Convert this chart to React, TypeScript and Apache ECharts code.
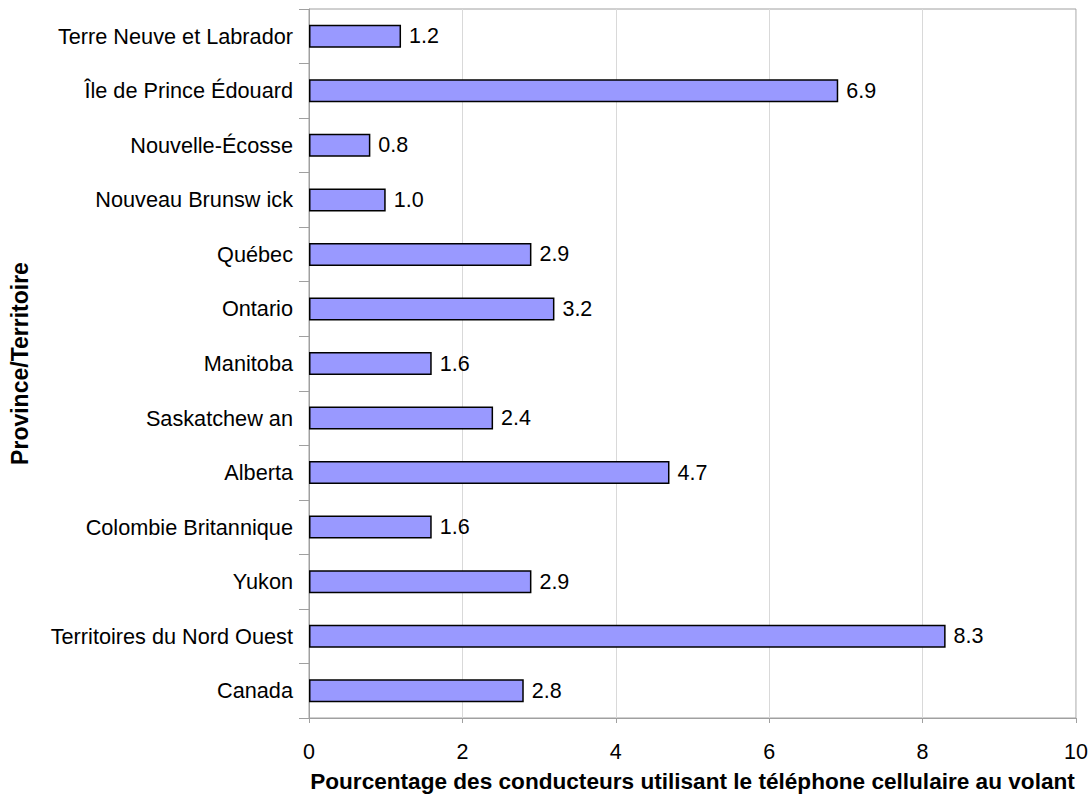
import React, { useEffect, useRef } from "react";
import * as echarts from "echarts";

const categories = [
  "Terre Neuve et Labrador",
  "Île de Prince Édouard",
  "Nouvelle-Écosse",
  "Nouveau Brunsw ick",
  "Québec",
  "Ontario",
  "Manitoba",
  "Saskatchew an",
  "Alberta",
  "Colombie Britannique",
  "Yukon",
  "Territoires du Nord Ouest",
  "Canada",
];
const values = [1.2, 6.9, 0.8, 1.0, 2.9, 3.2, 1.6, 2.4, 4.7, 1.6, 2.9, 8.3, 2.8];
const xTitle = "Pourcentage des conducteurs utilisant le téléphone cellulaire au volant";
const yTitle = "Province/Territoire";

export default function App() {
  const ref = useRef<HTMLDivElement>(null);
  useEffect(() => {
    if (!ref.current) return;
    const chart = echarts.init(ref.current, null, { renderer: "svg" });
    const font = "Arial, 'Liberation Sans', sans-serif";
    chart.setOption({
      animation: false,
      backgroundColor: "#ffffff",
      textStyle: { fontFamily: font },
      grid: {
        left: 308,
        right: 15,
        top: 9,
        bottom: 87,
        show: true,
        borderColor: "#a0a0a0",
        borderWidth: 1,
        backgroundColor: "transparent",
      },
      xAxis: {
        type: "value",
        min: 0,
        max: 10,
        interval: 2,
        name: xTitle,
        nameLocation: "middle",
        nameGap: 52,
        nameTextStyle: { fontSize: 22.6, fontWeight: "bold", color: "#000", fontFamily: font },
        axisLine: { show: true, lineStyle: { color: "#a0a0a0", width: 1 } },
        axisTick: { show: true, length: 5, lineStyle: { color: "#a0a0a0" } },
        axisLabel: { fontSize: 21.5, color: "#000", margin: 23, fontFamily: font },
        splitLine: { show: true, lineStyle: { color: "#d9d9d9", width: 1 } },
      },
      yAxis: {
        type: "category",
        data: categories,
        inverse: true,
        name: yTitle,
        nameLocation: "middle",
        nameGap: 278,
        nameRotate: 90,
        nameTextStyle: { fontSize: 23, fontWeight: "bold", color: "#000", fontFamily: font },
        axisLine: { show: true, lineStyle: { color: "#a0a0a0", width: 1 } },
        axisTick: { show: true, length: 10, lineStyle: { color: "#a0a0a0" } },
        axisLabel: { fontSize: 21.7, color: "#000", margin: 16, fontFamily: font },
        splitLine: { show: false },
      },
      series: [
        {
          type: "bar",
          data: values,
          barWidth: 23,
          itemStyle: { color: "#9999ff", borderColor: "#000", borderWidth: 1.5 },
          label: {
            show: true,
            position: "right",
            distance: 8,
            fontSize: 21.5,
            color: "#000",
            fontFamily: font,
            formatter: (p: any) => Number(p.value).toFixed(1),
          },
        },
      ],
    });
    return () => chart.dispose();
  }, []);
  return (
    <div
      ref={ref}
      style={{ position: "fixed", left: 0, top: 0, width: 1091, height: 805, background: "#fff" }}
    />
  );
}
